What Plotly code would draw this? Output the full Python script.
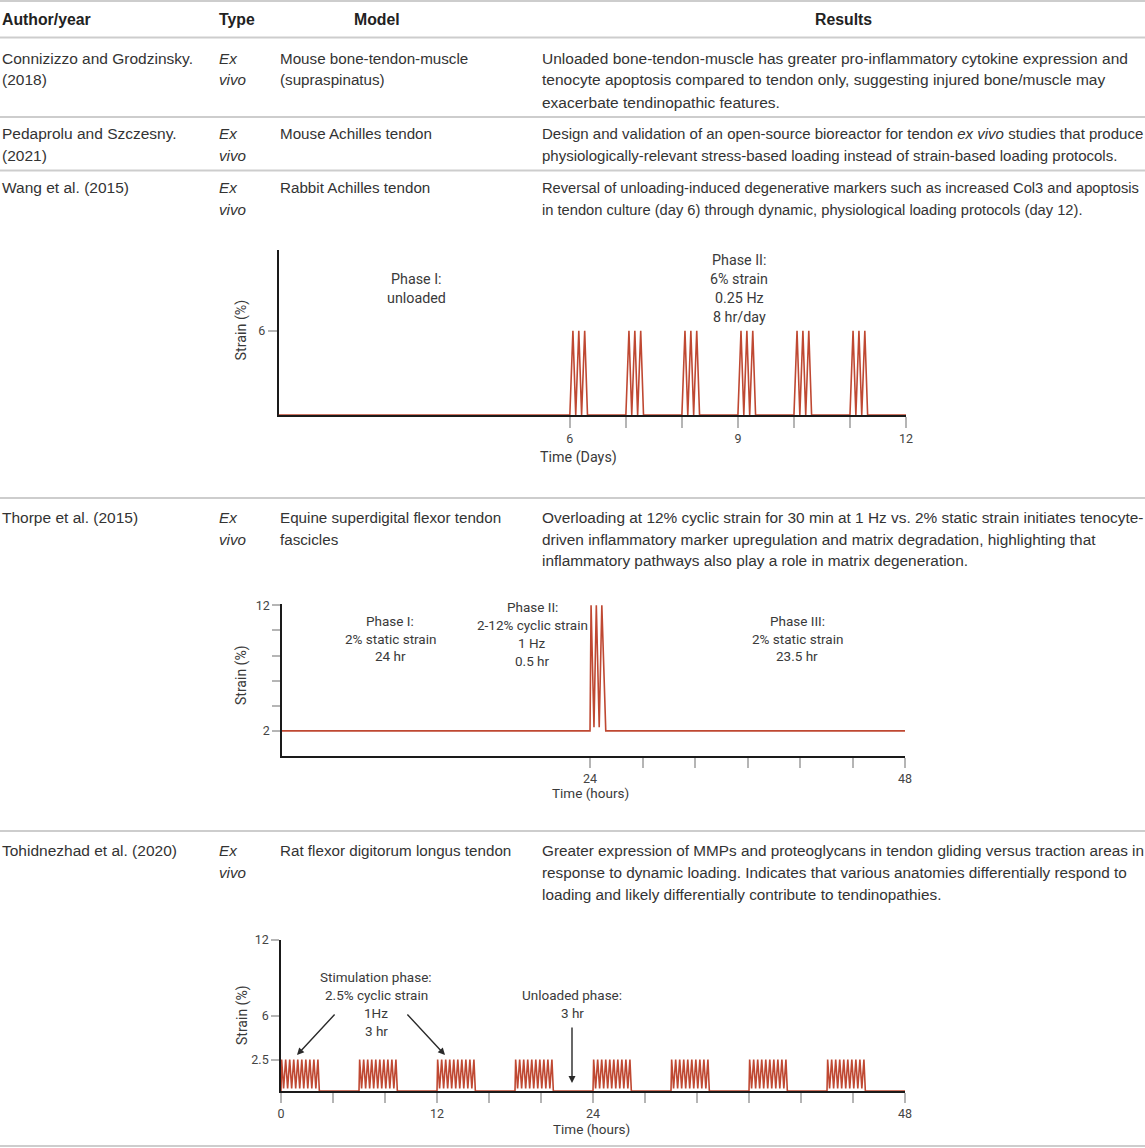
import plotly.graph_objects as go

W, H = 1145, 1148

# ---- table content ----
header = ["Author/year", "Type", "Model", "Results"]

authors = [
    ["Connizizzo and Grodzinsky.", "(2018)"],
    ["Pedaprolu and Szczesny.", "(2021)"],
    ["Wang et al. (2015)"],
    ["Thorpe et al. (2015)"],
    ["Tohidnezhad et al. (2020)"],
]
study_type = ["<i>Ex</i>", "<i>vivo</i>"]
models = [
    ["Mouse bone-tendon-muscle", "(supraspinatus)"],
    ["Mouse Achilles tendon"],
    ["Rabbit Achilles tendon"],
    ["Equine superdigital flexor tendon", "fascicles"],
    ["Rat flexor digitorum longus tendon"],
]
results = [
    ["Unloaded bone-tendon-muscle has greater pro-inflammatory cytokine expression and",
     "tenocyte apoptosis compared to tendon only, suggesting injured bone/muscle may",
     "exacerbate tendinopathic features."],
    ["Design and validation of an open-source bioreactor for tendon <i>ex vivo</i> studies that produce",
     "physiologically-relevant stress-based loading instead of strain-based loading protocols."],
    ["Reversal of unloading-induced degenerative markers such as increased Col3 and apoptosis",
     "in tendon culture (day 6) through dynamic, physiological loading protocols (day 12)."],
    ["Overloading at 12% cyclic strain for 30 min at 1 Hz vs. 2% static strain initiates tenocyte-",
     "driven inflammatory marker upregulation and matrix degradation, highlighting that",
     "inflammatory pathways also play a role in matrix degeneration."],
    ["Greater expression of MMPs and proteoglycans in tendon gliding versus traction areas in",
     "response to dynamic loading. Indicates that various anatomies differentially respond to",
     "loading and likely differentially contribute to tendinopathies."],
]

# ---- chart data ----
# Wang et al.: days, bursts of 6% strain
wang_start_day = 0.8
wang_end_day = 12
wang_burst_days = [6, 7, 8, 9, 10, 11]
wang_cycle_offsets = [0, 0.055, 0.105, 0.16, 0.21, 0.265, 0.315]
wang_cycle_strain = [0, 6, 0, 6, 0, 6, 0]

# Thorpe et al.: hours, 2% static with 2-12% cyclic burst
thorpe_hours = [0.53, 24.0, 24.08, 24.3, 24.48, 24.7, 24.9, 25.2, 48.0]
thorpe_strain = [2, 2, 12, 2.3, 12, 2.3, 12, 2, 2]

# Tohidnezhad et al.: hours, 3 hr blocks of 2.5% cyclic strain
tohid_end_hour = 48
tohid_block_starts = [0, 6, 12, 18, 24, 30, 36, 42]
tohid_cycle_offsets = [0.0, 0.05, 0.2, 0.36, 0.51, 0.67, 0.82, 0.98, 1.13, 1.29, 1.44,
                       1.6, 1.75, 1.91, 2.06, 2.22, 2.37, 2.53, 2.68, 2.84, 2.95]
tohid_cycle_strain = [0, 2.5, 0.2, 2.5, 0.2, 2.5, 0.2, 2.5, 0.2, 2.5, 0.2,
                      2.5, 0.2, 2.5, 0.2, 2.5, 0.2, 2.5, 0.2, 2.5, 0]

RED = "#bf4832"
TABLE_FONT = "Liberation Sans, Arial, sans-serif"
CHART_FONT = "Roboto, sans-serif"


def px(x):
    return x / W


def py(y):
    return 1 - y / H


wang_x = [wang_start_day]
wang_y = [0]
for d in wang_burst_days:
    wang_x += [d + o for o in wang_cycle_offsets]
    wang_y += wang_cycle_strain
wang_x.append(wang_end_day)
wang_y.append(0)

tohid_x, tohid_y = [], []
for s in tohid_block_starts:
    tohid_x += [s + o for o in tohid_cycle_offsets]
    tohid_y += tohid_cycle_strain
tohid_x.append(tohid_end_hour)
tohid_y.append(0)

fig = go.Figure()
for xs, ys, n in [(wang_x, wang_y, ""), (thorpe_hours, thorpe_strain, "2"), (tohid_x, tohid_y, "3")]:
    fig.add_trace(go.Scatter(x=xs, y=ys, mode="lines", xaxis="x" + n, yaxis="y" + n,
                             line=dict(color=RED, width=1.6), cliponaxis=False,
                             showlegend=False, hoverinfo="skip"))

annotations = []


def text(x, y, t, size=14, family=TABLE_FONT, color="#333", xanchor="left", angle=0):
    annotations.append(dict(x=px(x), y=py(y), xref="paper", yref="paper", text=t,
                            showarrow=False, xanchor=xanchor, yanchor="middle",
                            textangle=angle, borderpad=0,
                            font=dict(size=size, family=family, color=color)))


# header
hdr = dict(size=15.8, color="#222")
text(0.5, 19.5, "<b>Author/year</b>", **hdr)
text(218, 19.5, "<b>Type</b>", **hdr)
text(377, 19.5, "<b>Model</b>", xanchor="center", **hdr)
text(843, 19.5, "<b>Results</b>", xanchor="center", **hdr)

row_tops = [58, 133, 188, 517, 850]
result_sizes = [15.5, 15.0, 14.7, 15.4, 15.3]
for i, top in enumerate(row_tops):
    for j, t in enumerate(authors[i]):
        text(0.5, top + 22 * j, t, size=15.5)
    for j, t in enumerate(study_type):
        text(218, top + 22 * j, t, size=15.2)
    for j, t in enumerate(models[i]):
        text(279, top + 22 * j, t, size=15.2)
    for j, t in enumerate(results[i]):
        text(541, top + 22 * j, t, size=result_sizes[i])

# chart texts
c1 = dict(size=14.3, family=CHART_FONT, color="#3a3a3a", xanchor="center")
text(241.5, 330, "Strain (%)", angle=-90, **c1)
text(416, 279, "Phase I:", **c1)
text(416, 298, "unloaded", **c1)
for j, t in enumerate(["Phase II:", "6% strain", "0.25 Hz", "8 hr/day"]):
    text(739, 259.5 + 19.3 * j, t, **c1)
text(578, 458, "Time (Days)", **c1)

c2 = dict(size=13.5, family=CHART_FONT, color="#3a3a3a", xanchor="center")
ylab = dict(c2, size=14)
text(241, 675, "Strain (%)", angle=-90, **ylab)
for j, t in enumerate(["Phase I:", "2% static strain", "24 hr"]):
    text(390, 621 + 17.5 * j, t, **c2)
for j, t in enumerate(["Phase II:", "2-12% cyclic strain", "1 Hz", "0.5 hr"]):
    text(532, 607 + 18 * j, t, **c2)
for j, t in enumerate(["Phase III:", "2% static strain", "23.5 hr"]):
    text(797, 621 + 17.5 * j, t, **c2)
text(590, 793, "Time (hours)", **c2)

text(242, 1015, "Strain (%)", angle=-90, **ylab)
for j, t in enumerate(["Stimulation phase:", "2.5% cyclic strain", "1Hz", "3 hr"]):
    text(376, 977 + 18 * j, t, **c2)
for j, t in enumerate(["Unloaded phase:", "3 hr"]):
    text(572, 995 + 18 * j, t, **c2)
text(591, 1129, "Time (hours)", **c2)

# arrows in the last chart
for hx, hy, ax, ay in [(297, 1055, 39, -42), (445, 1055, -39, -42), (572, 1083, 0, -57)]:
    annotations.append(dict(x=px(hx), y=py(hy), xref="paper", yref="paper", text="",
                            showarrow=True, axref="pixel", ayref="pixel", ax=ax, ay=ay,
                            arrowhead=2, arrowsize=1, arrowwidth=1.4, arrowcolor="#2a2a2a"))

# table rules
shapes = []
for y in [1, 37.5, 117, 170.5, 498, 831, 1146]:
    shapes.append(dict(type="line", xref="paper", yref="paper", x0=0, x1=1,
                       y0=py(y), y1=py(y), line=dict(color="#cdcdcd", width=2)))

axis_style = dict(showline=True, linecolor="#1a1a1a", linewidth=1.6, showgrid=False,
                  zeroline=False, ticks="outside", tickcolor="#b5b5b5", tickwidth=1.5,
                  tickfont=dict(size=12.5, family=CHART_FONT, color="#444"),
                  fixedrange=True, automargin=False)

fig.update_layout(
    width=W, height=H,
    margin=dict(l=0, r=0, t=0, b=0, autoexpand=False),
    paper_bgcolor="white", plot_bgcolor="white",
    xaxis=dict(domain=[px(278.5), px(906)], range=[wang_start_day, wang_end_day], anchor="y",
               tickvals=[6, 7, 8, 9, 10, 11, 12], ticktext=["6", "", "", "9", "", "", "12"],
               ticklen=11, layer="below traces", **axis_style),
    yaxis=dict(domain=[py(415), py(250)], range=[0, 11.74], anchor="x",
               tickvals=[6], ticktext=["6"], ticklen=9, layer="below traces", **axis_style),
    xaxis2=dict(domain=[px(282), px(905)], range=[0.53, 48], anchor="y2",
                tickvals=[24, 28, 32, 36, 40, 44, 48], ticktext=["24", "", "", "", "", "", "48"],
                ticklen=10, **axis_style),
    yaxis2=dict(domain=[py(756), py(604)], range=[0, 12.1], anchor="x2",
                tickvals=[2, 4, 6, 8, 10, 12], ticktext=["2", "", "", "", "", "12"],
                ticklen=8, **axis_style),
    xaxis3=dict(domain=[px(281), px(905)], range=[0, 48], anchor="y3",
                tickvals=list(range(0, 49, 4)),
                ticktext=["0", "", "", "12", "", "", "24", "", "", "", "", "", "48"],
                ticklen=10, layer="below traces", **axis_style),
    yaxis3=dict(domain=[py(1091), py(940)], range=[0, 12], anchor="x3",
                tickvals=[2.5, 6, 12], ticktext=["2.5", "6", "12"], ticklen=8,
                layer="below traces", **axis_style),
    annotations=annotations,
    shapes=shapes,
)

fig.write_html(
    "out.html",
    config={"displayModeBar": False},
    post_script=(
        "document.documentElement.style.margin='0';"
        "document.body.style.margin='0';"
        "document.body.style.overflow='hidden';"
        "document.documentElement.style.overflow='hidden';"
    ),
)
